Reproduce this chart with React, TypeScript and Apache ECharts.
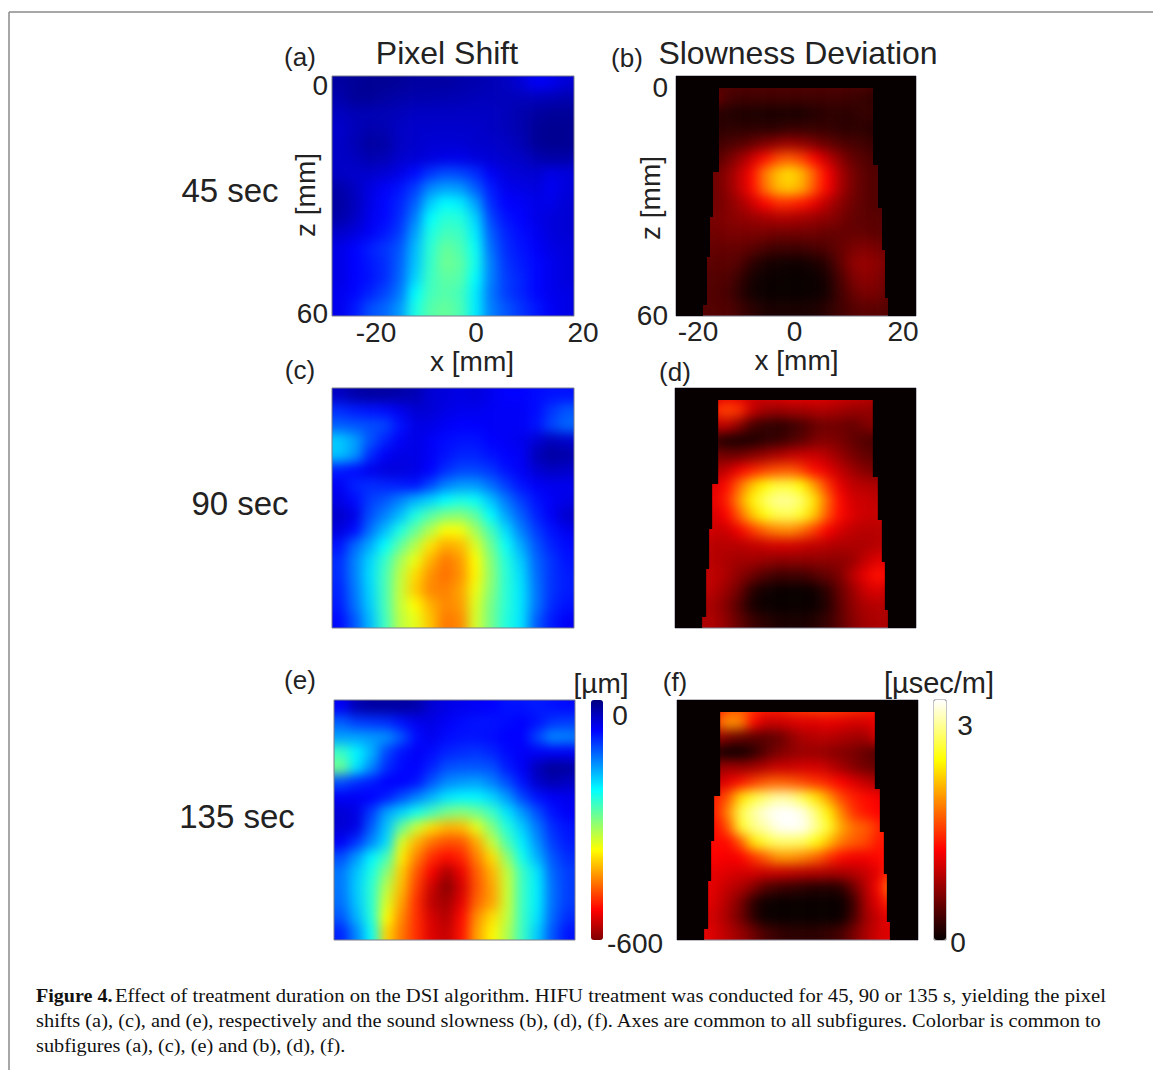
import React, { useEffect, useRef } from "react";
import * as echarts from "echarts";

// Displacement magnitude in micrometres (pixel shift panels), rows run from z = 0 down to z = 60.
const shift45 = [
  [20,15,12,12,15,20,20,20,25,28,32,38,50,70,65,50],
  [28,15,15,20,25,28,28,30,32,35,35,35,35,35,32,28],
  [38,32,32,32,35,40,40,40,40,40,40,35,28,20,15,15],
  [45,35,28,30,40,45,45,45,45,45,40,35,28,15,10,12],
  [42,32,20,22,40,45,50,50,50,45,45,40,32,15,10,12],
  [42,38,28,32,45,50,55,62,62,55,50,45,42,30,22,25],
  [40,45,45,50,60,80,105,120,115,100,70,55,50,48,60,55],
  [25,38,58,70,85,110,155,170,165,130,90,65,60,55,68,55],
  [20,35,60,78,95,130,195,225,215,170,100,75,70,62,62,50],
  [25,40,65,78,100,150,225,250,245,200,115,85,75,62,55,50],
  [45,55,70,88,110,170,240,265,260,215,130,95,80,68,55,50],
  [60,75,92,105,125,185,250,285,270,230,140,100,85,72,60,55],
  [60,75,88,100,130,190,255,290,280,235,150,105,90,78,65,55],
  [60,75,85,100,135,200,260,280,275,225,150,110,95,78,65,55],
  [65,78,95,115,145,225,265,275,265,215,145,110,95,78,65,60],
  [65,88,120,135,165,240,275,285,270,215,150,125,105,88,70,60],
];
const shift90 = [
  [40,25,20,20,25,30,50,55,60,55,65,75,75,80,85,85],
  [100,90,85,80,65,50,50,60,65,65,70,70,70,80,105,125],
  [130,125,120,115,85,60,60,70,75,75,70,70,70,85,115,135],
  [195,170,125,95,70,60,70,80,85,85,75,70,65,50,35,45],
  [190,165,100,70,60,60,70,85,95,95,85,75,70,35,20,25],
  [90,80,65,55,55,60,75,100,115,115,105,85,70,50,40,45],
  [70,95,100,95,90,85,115,150,165,165,140,110,85,70,65,65],
  [60,80,110,125,150,180,200,225,240,230,190,145,110,85,70,60],
  [45,60,120,150,185,240,275,300,305,280,225,170,130,95,70,45],
  [55,80,140,185,240,285,330,375,370,320,265,205,150,110,85,65],
  [85,135,175,225,280,330,390,425,415,355,290,230,175,125,95,80],
  [100,150,200,255,320,365,420,455,435,375,305,245,195,135,105,85],
  [100,150,205,265,335,395,440,460,440,380,310,250,205,140,105,90],
  [95,145,200,265,340,405,445,450,430,365,305,250,210,145,105,90],
  [90,140,195,265,340,375,420,445,435,355,295,250,210,145,100,85],
  [80,125,185,260,335,360,410,455,445,350,295,245,210,130,90,70],
];
const shift135 = [
  [70,30,20,20,20,25,50,60,65,70,75,85,85,90,85,80],
  [130,110,105,100,85,65,60,70,80,85,85,80,75,85,105,110],
  [170,170,165,160,125,80,65,80,85,85,80,75,75,115,155,150],
  [260,220,180,115,85,70,80,95,100,105,95,80,70,70,70,70],
  [290,210,155,100,80,75,95,120,125,125,120,90,70,35,15,20],
  [120,100,90,75,75,85,125,155,165,170,150,120,85,45,30,40],
  [70,70,75,90,120,150,180,210,220,220,200,165,115,85,70,65],
  [50,60,110,170,200,235,265,295,305,290,260,210,165,120,85,70],
  [50,60,130,190,285,345,395,420,415,360,300,245,195,145,100,85],
  [70,105,155,205,355,420,460,480,475,425,340,270,215,160,110,90],
  [120,165,220,265,385,450,500,520,505,450,395,310,235,180,125,100],
  [145,190,240,305,405,475,530,575,535,470,420,340,260,210,135,110],
  [145,195,250,335,415,490,555,595,550,475,430,345,260,215,140,110],
  [140,190,250,355,430,500,565,580,540,465,430,345,260,215,140,110],
  [125,180,245,375,445,500,550,570,520,440,395,340,260,210,135,100],
  [95,155,230,400,455,500,545,560,515,430,380,330,260,195,125,85],
];

// Sound slowness deviation in microseconds per metre, over the insonified part of the image.
const slow45 = [
  [.35,.4,.4,.4,.4,.4,.4,.4,.4,.4,.4,.4,.38,.38,.35,.3],
  [.5,.55,.35,.3,.3,.3,.3,.3,.3,.3,.3,.3,.28,.25,.2,.2],
  [.2,.2,.15,.12,.12,.1,.1,.1,.1,.15,.2,.2,.2,.25,.25,.2],
  [.2,.2,.2,.2,.2,.2,.2,.25,.25,.25,.25,.2,.2,.2,.15,.15],
  [.3,.3,.35,.4,.5,.6,.7,.75,.7,.6,.5,.4,.35,.3,.25,.25],
  [.35,.4,.55,.75,1,1.3,1.6,1.7,1.55,1.25,.95,.7,.5,.4,.35,.3],
  [.45,.55,.7,.95,1.3,1.85,2.2,2.35,2.15,1.7,1.25,.85,.6,.45,.4,.35],
  [.45,.55,.7,.95,1.3,1.8,2.15,2.25,2.1,1.65,1.25,.85,.6,.45,.4,.35],
  [.5,.55,.65,.8,1,1.25,1.45,1.45,1.35,1.15,.9,.7,.55,.45,.4,.35],
  [.55,.6,.65,.7,.75,.8,.85,.85,.8,.75,.7,.6,.5,.45,.45,.4],
  [.55,.55,.6,.6,.6,.6,.55,.55,.55,.55,.5,.5,.5,.5,.45,.45],
  [.5,.5,.5,.5,.45,.35,.3,.3,.3,.35,.4,.5,.6,.65,.6,.5],
  [.45,.45,.45,.4,.2,.1,.06,.05,.05,.1,.2,.45,.7,.75,.7,.55],
  [.4,.4,.4,.25,.08,.03,.02,.01,.01,.02,.1,.35,.6,.7,.65,.5],
  [.4,.4,.35,.2,.06,.02,.01,.01,.01,.02,.08,.3,.5,.6,.6,.45],
  [.4,.4,.4,.3,.2,.12,.1,.1,.1,.12,.2,.3,.4,.45,.45,.4],
];
const slow90 = [
  [.9,1,1.15,1.1,1,1.05,1.1,1.15,1.15,1.15,1.1,1.05,1,.95,.9,.85],
  [1.3,1.4,1.6,1.5,1,.8,.75,.8,.8,.85,.85,.8,.75,.75,.7,.65],
  [.9,.9,.95,.7,.35,.25,.2,.25,.35,.5,.55,.55,.5,.6,.7,.7],
  [.3,.25,.12,.1,.12,.2,.25,.35,.45,.6,.65,.6,.5,.4,.35,.35],
  [.6,.6,.55,.55,.65,.75,.85,.95,1,1,.9,.75,.6,.5,.45,.45],
  [.8,.85,.95,1.2,1.4,1.55,1.65,1.7,1.55,1.3,1.15,.95,.8,.65,.6,.6],
  [1.1,1.1,1.3,1.75,2.2,2.5,2.7,2.7,2.5,2.05,1.55,1.15,.95,.9,.85,.8],
  [1.2,1.15,1.4,1.95,2.45,2.8,3,3,2.85,2.4,1.8,1.3,1.05,1,.95,.9],
  [1.1,1.05,1.25,1.7,2.2,2.55,2.75,2.8,2.65,2.25,1.7,1.3,1.1,1,1,.95],
  [1.1,1,1,1.2,1.5,1.75,1.9,1.95,1.8,1.55,1.25,1.05,.95,.9,.9,.9],
  [.95,.9,.9,.9,.95,1,1.05,1.05,1,.95,.9,.85,.85,.85,.9,.9],
  [.9,.9,.85,.8,.8,.75,.7,.7,.7,.7,.7,.7,.75,.95,1.1,1.1],
  [.95,.95,.85,.7,.55,.4,.3,.3,.3,.4,.5,.6,.9,1.15,1.35,1.25],
  [.95,.9,.75,.55,.2,.06,.02,.01,.01,.05,.2,.5,.75,1,1.1,.95],
  [.85,.8,.65,.4,.1,.02,.01,.01,.01,.02,.15,.45,.7,.85,.9,.85],
  [.85,.85,.7,.5,.3,.2,.12,.1,.1,.15,.25,.45,.65,.8,.85,.85],
];
const slow135 = [
  [1.1,1.3,1.6,1.7,1.5,1.4,1.4,1.5,1.55,1.6,1.6,1.55,1.5,1.45,1.3,1.2],
  [1.5,1.6,2,1.9,1.3,1,1,1.05,1.1,1.1,1.15,1.1,1.05,1.05,1.2,1],
  [.9,.8,.6,.5,.45,.45,.5,.7,.85,.9,.9,.85,.8,.8,1.1,.9],
  [.3,.15,.03,.05,.2,.45,.6,.7,.75,.75,.7,.65,.6,.5,.4,.4],
  [.7,.7,.8,.75,.8,.9,1,1,1.05,1.05,.95,.8,.65,.55,.5,.5],
  [1,1,1.15,1.35,1.55,1.7,1.75,1.7,1.6,1.5,1.4,1.25,1.1,.95,.85,.75],
  [1.4,1.4,1.7,2.35,2.7,2.9,3.05,3,2.75,2.4,2,1.6,1.4,1.3,1.2,1.1],
  [1.4,1.4,1.95,2.75,3.05,3.25,3.35,3.35,3.25,2.9,2.45,1.9,1.5,1.35,1.25,1.2],
  [1.3,1.3,1.7,2.65,2.95,3.1,3.3,3.35,3.3,3,2.65,2.1,1.8,1.7,1.45,1.3],
  [1.25,1.3,1.3,1.7,2.4,2.7,2.85,2.85,2.8,2.55,2.2,1.85,1.7,1.6,1.35,1.35],
  [1.2,1.25,1.2,1.25,1.5,1.75,2,2,1.9,1.75,1.5,1.3,1.2,1.2,1.3,1.3],
  [1.1,1.15,1.1,1.05,1.05,1,1,.95,.9,.9,.85,.85,.9,1,1.15,1.5],
  [1.15,1.1,.95,.85,.65,.4,.3,.25,.2,.15,.15,.2,.55,.9,1.3,1.95],
  [1.15,1.05,.85,.6,.2,.03,.01,.01,.01,.01,.01,.01,.3,.85,1.15,1.5],
  [1.05,1,.8,.55,.2,.02,.01,.01,.01,.01,.01,.02,.35,.8,1,1.2],
  [1.15,1.05,.9,.75,.55,.35,.25,.2,.2,.2,.25,.35,.6,.85,1.05,1.1],
];

// Black regions outside the imaged sector: [zStart, zEnd, xStart, xEnd] in mm.
const outsideSector = [
  [0,3,-24,24],
  [3,24,-24,-15.4],[24,35.25,-24,-16.6],[35.25,45.25,-24,-17.2],[45.25,57.25,-24,-17.8],[57.25,60,-24,-18.6],
  [3,22.25,15.4,24],[22.25,33,16.4,24],[33,43.5,17.2,24],[43.5,55.5,17.8,24],[55.5,60,18.4,24],
];

const xTicks = [-20, 0, 20];
const zTicks = [0, 60];
const durations = ["45 sec", "90 sec", "135 sec"];
const panelLetters = ["(a)", "(b)", "(c)", "(d)", "(e)", "(f)"];
const captionLines = [
  "Effect of treatment duration on the DSI algorithm. HIFU treatment was conducted for 45, 90 or 135 s, yielding the pixel",
  "shifts (a), (c), and (e), respectively and the sound slowness (b), (d), (f). Axes are common to all subfigures. Colorbar is common to",
  "subfigures (a), (c), (e) and (b), (d), (f).",
];
const captionStretch = [1.059, 1.047, 1.04];

const JET = ["#800000","#ff0000","#ff8000","#ffff00","#80ff80","#00ffff","#0080ff","#0000ff","#000080"];
const HOT = ["#070000","#550000","#aa0000","#ff0000","#ff5500","#ffaa00","#ffff00","#ffff80","#ffffff"];
const SHIFT_MIN = -600;
const SLOW_MAX = 3.35;

const SANS = '"Liberation Sans", Arial, sans-serif';
const SERIF = '"Liberation Serif", "Times New Roman", serif';
const INK = "#222222";

const panels = [
  { x: 332, y: 76, w: 242, h: 240, rows: shift45, kind: "shift" },
  { x: 676, y: 76, w: 240, h: 240, rows: slow45, kind: "slow" },
  { x: 332, y: 388, w: 242, h: 240, rows: shift90, kind: "shift" },
  { x: 675, y: 388, w: 241, h: 240, rows: slow90, kind: "slow" },
  { x: 334, y: 700, w: 241, h: 240, rows: shift135, kind: "shift" },
  { x: 677, y: 700, w: 241, h: 240, rows: slow135, kind: "slow" },
];

const PAD = 2;
const HIDE = { show: false };

function paddedCells(rows: number[][], sign: number) {
  const out: number[][] = [];
  const nr = rows.length;
  const nc = rows[0].length;
  for (let r = -PAD; r < nr + PAD; r++) {
    for (let c = -PAD; c < nc + PAD; c++) {
      const rr = Math.min(nr - 1, Math.max(0, r));
      const cc = Math.min(nc - 1, Math.max(0, c));
      out.push([c + PAD, r + PAD, sign * rows[rr][cc]]);
    }
  }
  return out;
}

function heatOption() {
  const grid: any[] = [];
  const xAxis: any[] = [];
  const yAxis: any[] = [];
  const series: any[] = [];
  panels.forEach((p, i) => {
    const nc = p.rows[0].length;
    const nr = p.rows.length;
    const spanX = p.kind === "slow" ? p.w - 40 : p.w;
    const left = p.kind === "slow" ? p.x + 20 : p.x;
    const cw = spanX / nc;
    const ch = p.h / nr;
    grid.push({ left: left - PAD * cw, top: p.y - PAD * ch, width: (nc + 2 * PAD) * cw, height: (nr + 2 * PAD) * ch });
    const idx = (n: number) => Array.from({ length: n + 2 * PAD }, (_, k) => k);
    xAxis.push({ type: "category", gridIndex: i, data: idx(nc), show: false });
    yAxis.push({ type: "category", gridIndex: i, data: idx(nr), show: false, inverse: true });
    series.push({
      type: "heatmap",
      xAxisIndex: i,
      yAxisIndex: i,
      progressive: 0,
      data: paddedCells(p.rows, p.kind === "shift" ? -1 : 1),
      itemStyle: { borderWidth: 0 },
    });
  });
  return {
    animation: false,
    tooltip: { show: false },
    grid,
    xAxis,
    yAxis,
    series,
    visualMap: [
      { show: false, type: "continuous", min: SHIFT_MIN, max: 0, seriesIndex: [0, 2, 4], inRange: { color: JET } },
      { show: false, type: "continuous", min: 0, max: SLOW_MAX, seriesIndex: [1, 3, 5], inRange: { color: HOT } },
    ],
  };
}

function label(text: string, x: number, y: number, size: number, extra: any = {}) {
  return {
    type: "text",
    x,
    y,
    silent: true,
    ...extra,
    style: {
      text,
      fill: INK,
      fontFamily: SANS,
      fontSize: size,
      align: "center",
      verticalAlign: "middle",
      ...(extra.style || {}),
    },
  };
}

function tickAxes(gridIndex: number, yMargin: number, xMargin: number, zNameGap: number, xNameGap: number, zeroShift: number, namePad: number, zPad: number) {
  const common = { axisLine: HIDE, axisTick: HIDE, splitLine: HIDE };
  const nameStyle = { fontFamily: SANS, fontSize: 28, color: INK };
  return {
    x: {
      ...common,
      type: "value",
      gridIndex,
      min: -20,
      max: 20,
      name: "x [mm]",
      nameLocation: "middle",
      nameGap: xNameGap,
      nameMoveOverlap: false,
      nameTextStyle: { ...nameStyle, padding: [0, namePad, 0, 0] },
      axisLabel: {
        customValues: xTicks,
        margin: xMargin,
        formatter: (v: number) => (v === 0 ? `{z|${v}}` : `{n|${v}}`),
        rich: {
          n: { fontFamily: SANS, fontSize: 28, color: INK },
          z: { fontFamily: SANS, fontSize: 28, color: INK, padding: [0, zeroShift, 0, 0] },
        },
      },
    },
    y: {
      ...common,
      type: "value",
      gridIndex,
      inverse: true,
      min: 0,
      max: 60,
      name: "z [mm]",
      nameLocation: "middle",
      nameGap: zNameGap,
      nameRotate: 90,
      nameMoveOverlap: false,
      nameTextStyle: { ...nameStyle, padding: [0, 0, 0, zPad] },
      axisLabel: {
        customValues: zTicks,
        margin: yMargin,
        fontFamily: SANS,
        fontSize: 28,
        color: INK,
      },
    },
  };
}

function overlayOption() {
  const grid: any[] = [];
  const xAxis: any[] = [];
  const yAxis: any[] = [];
  const series: any[] = [];
  panels.forEach((p, i) => {
    grid.push({ left: p.x, top: p.y, width: p.w, height: p.h, show: true, borderColor: "#7d7d8c", borderWidth: 1, backgroundColor: "transparent" });
    xAxis.push({ type: "value", gridIndex: i, min: -24, max: 24, show: false });
    yAxis.push({ type: "value", gridIndex: i, min: 0, max: 60, inverse: true, show: false });
    if (p.kind === "slow") {
      series.push({
        type: "custom",
        coordinateSystem: "cartesian2d",
        xAxisIndex: i,
        yAxisIndex: i,
        silent: true,
        clip: true,
        data: outsideSector,
        encode: { x: [2, 3], y: [0, 1] },
        renderItem: (_: any, api: any) => {
          const a = api.coord([api.value(2), api.value(0)]);
          const b = api.coord([api.value(3), api.value(1)]);
          return {
            type: "rect",
            shape: { x: a[0], y: a[1], width: b[0] - a[0], height: b[1] - a[1] },
            style: { fill: "#070000" },
          };
        },
      });
    }
  });

  grid.push({ left: 376, top: 85, width: 207, height: 228 });
  grid.push({ left: 698, top: 87, width: 205, height: 228 });
  const ta = tickAxes(6, 48, 5, 57, 34, 7, 15, 8);
  const tb = tickAxes(7, 30, 2, 34, 31, 12, 8, 6);
  xAxis.push(ta.x, tb.x);
  yAxis.push(ta.y, tb.y);

  const letterPos = [[300, 57], [627, 58], [300, 370], [675, 372], [300, 680], [675, 682]];
  const durationPos = [[230, 190], [240, 503], [237, 816]];

  const graphic: any[] = [
    { type: "line", silent: true, shape: { x1: 9, y1: 12, x2: 1153, y2: 12 }, style: { stroke: "#8a8a8a", lineWidth: 1.5 } },
    { type: "line", silent: true, shape: { x1: 9, y1: 12, x2: 9, y2: 1070 }, style: { stroke: "#8a8a8a", lineWidth: 1.5 } },
    label("Pixel Shift", 447, 53, 32),
    label("Slowness Deviation", 798, 53, 32),
    ...panelLetters.map((t, i) => label(t, letterPos[i][0], letterPos[i][1], 26)),
    ...durations.map((t, i) => label(t, durationPos[i][0], durationPos[i][1], 33)),
    label("[µm]", 601, 683, 28),
    label("[µsec/m]", 939, 683, 29),
    label("0", 620, 715, 28),
    label("-600", 635, 943, 28),
    label("3", 965, 725, 28),
    label("0", 958, 942, 28),
    {
      type: "rect",
      silent: true,
      shape: { x: 934, y: 700, width: 12, height: 240 },
      style: { fill: "transparent", stroke: "#8a8a8a", lineWidth: 1 },
    },
    {
      type: "text",
      silent: true,
      x: 36,
      y: 995,
      scaleX: 1.03,
      style: { text: "Figure 4.", fill: "#111", fontFamily: SERIF, fontSize: 19.5, fontWeight: "bold", align: "left", verticalAlign: "middle" },
    },
    ...captionLines.map((t, i) => ({
      type: "text",
      silent: true,
      x: i === 0 ? 115 : 36,
      y: 995 + i * 25,
      scaleX: captionStretch[i],
      style: { text: t, fill: "#111", fontFamily: SERIF, fontSize: 19.5, align: "left", verticalAlign: "middle" },
    })),
  ];

  return {
    animation: false,
    tooltip: { show: false },
    grid,
    xAxis,
    yAxis,
    series,
    graphic,
    visualMap: [
      { type: "continuous", seriesIndex: [], min: SHIFT_MIN, max: 0, left: 591, top: 700, itemWidth: 12, itemHeight: 240, padding: 0, calculable: false, hoverLink: false, inRange: { color: JET } },
      { type: "continuous", seriesIndex: [], min: 0, max: SLOW_MAX, left: 934, top: 700, itemWidth: 12, itemHeight: 240, padding: 0, calculable: false, hoverLink: false, inRange: { color: HOT } },
    ],
  };
}

const clipPathD = panels.map((p) => `M${p.x} ${p.y}H${p.x + p.w}V${p.y + p.h}H${p.x}Z`).join(" ");

export default function App() {
  const heatRef = useRef<HTMLDivElement>(null);
  const overlayRef = useRef<HTMLDivElement>(null);
  useEffect(() => {
    const heat = echarts.init(heatRef.current!, undefined, { renderer: "svg" });
    const overlay = echarts.init(overlayRef.current!, undefined, { renderer: "svg" });
    heat.setOption(heatOption() as any);
    overlay.setOption(overlayOption() as any);
    return () => {
      heat.dispose();
      overlay.dispose();
    };
  }, []);
  const full: React.CSSProperties = { position: "absolute", left: 0, top: 0, width: 1153, height: 1070 };
  return (
    <div style={{ position: "fixed", left: 0, top: 0, width: 1153, height: 1070, background: "#fff", overflow: "hidden" }}>
      <div style={{ ...full, clipPath: `path('${clipPathD}')` }}>
        <div ref={heatRef} style={{ ...full, filter: "blur(6px)" }} />
      </div>
      <div ref={overlayRef} style={full} />
    </div>
  );
}
